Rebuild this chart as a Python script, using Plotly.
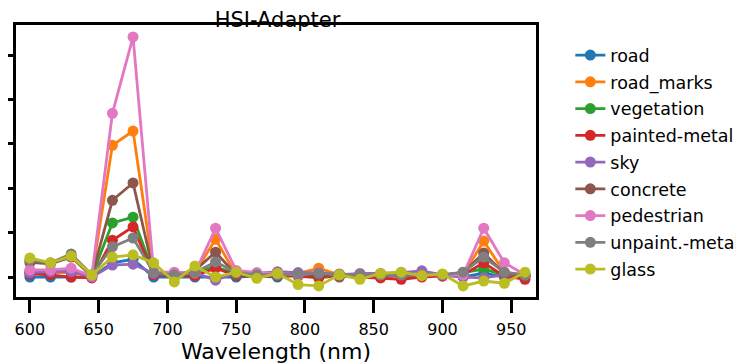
import plotly.graph_objects as go

# ─── Data ────────────────────────────────────────────────────────────────────

wavelengths = [600, 615, 630, 645, 660, 675, 690, 705, 720, 735, 750, 765, 780,
               795, 810, 825, 840, 855, 870, 885, 900, 915, 930, 945, 960]

road = [0.0, 0.0, 0.0, 0.0, 0.32, 0.40, 0.0, 0.0, 0.0, 0.0, 0.0, 0.02, 0.0,
        0.05, 0.05, 0.05, 0.03, 0.02, 0.03, 0.03, 0.05, 0.0, 0.09, 0.0, 0.02]
road_marks = [0.1, 0.1, 0.1, 0.0, 2.97, 3.29, 0.1, 0.05, 0.1, 0.85, 0.05, 0.05, 0.05,
              0.08, 0.2, 0.05, 0.05, 0.05, 0.05, 0.05, 0.05, 0.05, 0.81, 0.1, 0.05]
vegetation = [0.12, 0.12, 0.12, 0.02, 1.22, 1.35, 0.08, 0.05, 0.12, 0.22, 0.08, 0.05, 0.05,
              0.05, 0.05, 0.05, 0.05, 0.03, 0.05, 0.05, 0.05, 0.1, 0.18, 0.05, 0.05]
painted_metal = [0.07, 0.05, 0.0, -0.02, 0.83, 1.13, 0.05, 0.03, 0.03, 0.2, 0.03, 0.03, 0.03,
                 0.02, -0.02, 0.03, 0.0, -0.02, -0.05, 0.0, 0.02, 0.05, 0.32, 0.02, -0.05]
sky = [0.1, 0.12, 0.12, 0.0, 0.27, 0.29, 0.08, 0.05, 0.1, -0.07, 0.1, 0.08, 0.12,
       0.1, 0.1, 0.05, 0.08, 0.08, 0.1, 0.14, 0.05, 0.0, -0.02, 0.05, 0.05]
concrete = [0.33, 0.3, 0.45, 0.02, 1.73, 2.12, 0.1, 0.05, 0.15, 0.56, 0.05, 0.05, 0.05,
            0.05, 0.05, 0.0, 0.05, 0.05, 0.05, 0.05, 0.05, 0.1, 0.54, 0.08, 0.02]
pedestrian = [0.16, 0.16, 0.2, 0.02, 3.69, 5.41, 0.11, 0.11, 0.09, 1.1, 0.15, 0.1, 0.08,
              0.05, 0.1, 0.05, 0.05, 0.05, 0.05, 0.05, 0.05, 0.05, 1.1, 0.32, 0.05]
unpaint_metal = [0.38, 0.32, 0.52, 0.05, 0.68, 0.88, 0.1, 0.05, 0.1, 0.34, 0.1, 0.05, 0.05,
                 0.07, 0.09, 0.07, 0.05, 0.05, 0.05, 0.05, 0.05, 0.11, 0.45, 0.11, 0.05]
glass = [0.43, 0.32, 0.47, 0.05, 0.45, 0.5, 0.32, -0.11, 0.25, 0.0, 0.11, -0.03, 0.08,
         -0.17, -0.2, 0.05, -0.05, 0.08, 0.11, 0.03, 0.07, -0.2, -0.09, -0.14, 0.11]

series_names = ["road", "road_marks", "vegetation", "painted-metal", "sky",
                "concrete", "pedestrian", "unpaint.-metal", "glass"]
series_values = [road, road_marks, vegetation, painted_metal, sky,
                 concrete, pedestrian, unpaint_metal, glass]

x_ticks = [600, 650, 700, 750, 800, 850, 900, 950]
y_ticks = [0, 1, 2, 3, 4, 5]

# matplotlib tab10
COLORS = ["#1f77b4", "#ff7f0e", "#2ca02c", "#d62728", "#9467bd",
          "#8c564b", "#e377c2", "#7f7f7f", "#bcbd22"]

FONT = "DejaVu Sans"

# page body has an 8px margin, so the figure box is offset by that much
OFF = 8
W, H = 744, 364

# ─── Figure ──────────────────────────────────────────────────────────────────

fig = go.Figure()
for name, vals, col in zip(series_names, series_values, COLORS):
    fig.add_trace(go.Scatter(
        x=wavelengths, y=vals,
        mode="lines+markers",
        name=name,
        legendgroup=name,
        line=dict(color=col, width=2.8),
        marker=dict(color=col, size=11),
    ))

axis_common = dict(
    showline=True, linecolor="black", linewidth=3, mirror=True,
    ticks="outside", ticklen=13, tickwidth=3, tickcolor="black",
    showgrid=False, zeroline=False, automargin=False,
)

fig.update_layout(
    width=W, height=H,
    margin=dict(l=16 - OFF, r=W - 539 + OFF, t=25 - OFF, b=H - 297 + OFF),
    paper_bgcolor="white", plot_bgcolor="white",
    font=dict(family=FONT, color="black"),
    title=dict(text="HSI-Adapter", x=(277.5 - OFF) / W, xanchor="center",
               yref="container", y=1 - 12 / H, yanchor="middle",
               font=dict(size=21, family=FONT)),
    xaxis=dict(range=[589.9, 968], tickvals=x_ticks,
               tickfont=dict(size=16), ticklabelstandoff=3,
               title=dict(text="Wavelength (nm)", font=dict(size=22), standoff=0),
               **axis_common),
    yaxis=dict(range=[-0.45, 5.68], tickvals=y_ticks, showticklabels=False,
               **axis_common),
    legend=dict(x=1.066, xanchor="left", y=0.955, yanchor="top",
                font=dict(size=17.5), tracegroupgap=1,
                bgcolor="rgba(0,0,0,0)", borderwidth=0),
    showlegend=True,
)

fig.write_html("out.html")
